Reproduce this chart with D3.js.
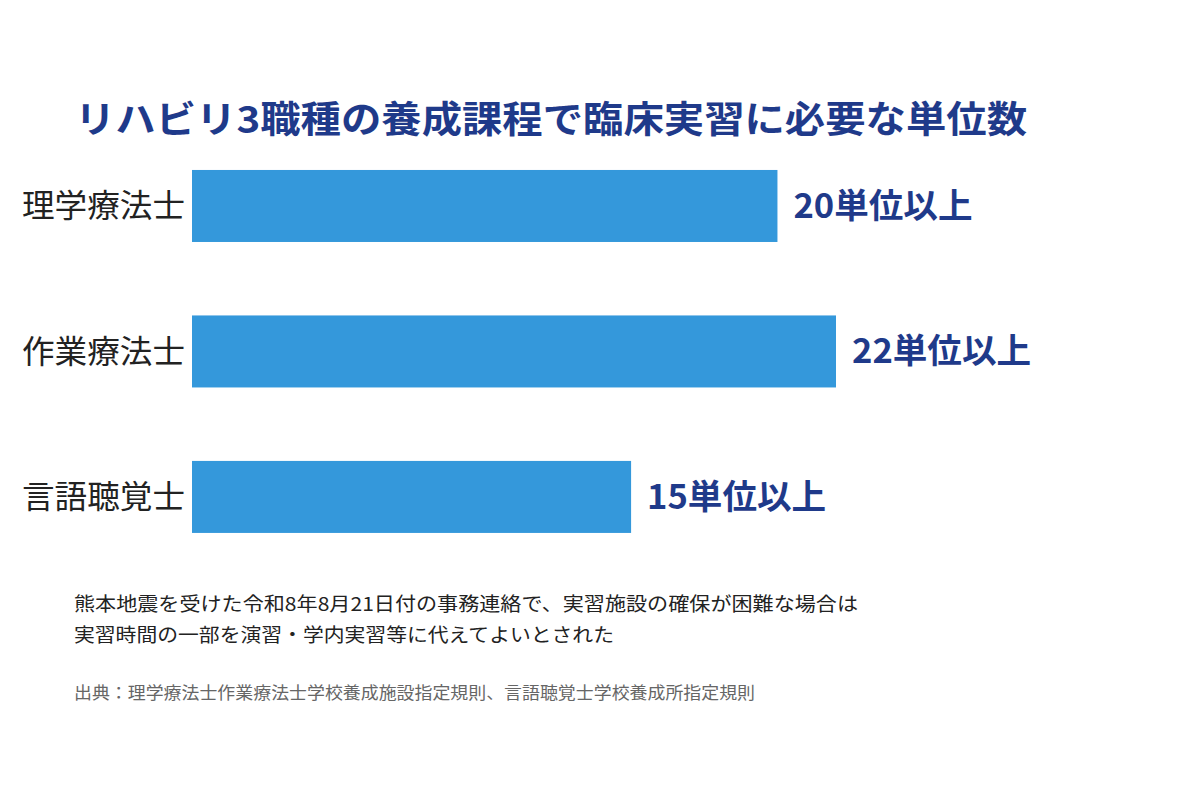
<!DOCTYPE html>
<html><head><meta charset="utf-8">
<script src="https://cdn.jsdelivr.net/npm/d3@7"></script>
<style>body{margin:0;background:#fff}svg{font-family:"Noto Sans CJK JP","Noto Sans",sans-serif}</style>
</head><body><svg id="c" width="1200" height="800"></svg>
<script>
const categories = ["理学療法士","作業療法士","言語聴覚士"];
const values = [20,22,15];
const valueLabels = ["20単位以上","22単位以上","15単位以上"];
const title = "リハビリ3職種の養成課程で臨床実習に必要な単位数";
const notes = ["熊本地震を受けた令和8年8月21日付の事務連絡で、実習施設の確保が困難な場合は","実習時間の一部を演習・学内実習等に代えてよいとされた"];
const source = "出典：理学療法士作業療法士学校養成施設指定規則、言語聴覚士学校養成所指定規則";

const svg = d3.select("#c");
const x = d3.scaleLinear().domain([0,22]).range([192,836]);
const y = d3.scaleBand().domain(categories).range([96.5,606.4]).paddingInner(0.505).paddingOuter(0.505);
const navy = "#1f3a8a";

svg.append("text").attr("x",75).attr("y",133).attr("font-size",37).attr("font-weight",700).attr("fill",navy)
  .attr("textLength",952).attr("lengthAdjust","spacingAndGlyphs").text(title);

svg.selectAll("rect.bar").data(values).join("rect")
  .attr("x",x(0)).attr("y",(d,i)=>y(categories[i])).attr("width",d=>x(d)-x(0)).attr("height",y.bandwidth()).attr("fill","#3498db");

svg.selectAll("text.cat").data(categories).join("text")
  .attr("x",185).attr("y",d=>y(d)+y.bandwidth()/2).attr("dy","0.35em").attr("text-anchor","end")
  .attr("font-size",32).attr("fill","#222").attr("textLength",163).attr("lengthAdjust","spacingAndGlyphs").text(d=>d);

svg.selectAll("text.val").data(values).join("text")
  .attr("x",d=>x(d)+16).attr("y",(d,i)=>y(categories[i])+y.bandwidth()/2).attr("dy","0.35em")
  .attr("font-size",34).attr("font-weight",700).attr("fill",navy)
  .attr("textLength",179).attr("lengthAdjust","spacingAndGlyphs").text((d,i)=>valueLabels[i]);

const noteLens=[784,540];
notes.forEach((t,i)=>svg.append("text").attr("x",74).attr("y",611+i*31).attr("font-size",19).attr("fill","#222")
  .attr("textLength",noteLens[i]).attr("lengthAdjust","spacingAndGlyphs").text(t));
svg.append("text").attr("x",74).attr("y",699).attr("font-size",16.5).attr("fill","#666")
  .attr("textLength",681).attr("lengthAdjust","spacingAndGlyphs").text(source);
</script></body></html>
